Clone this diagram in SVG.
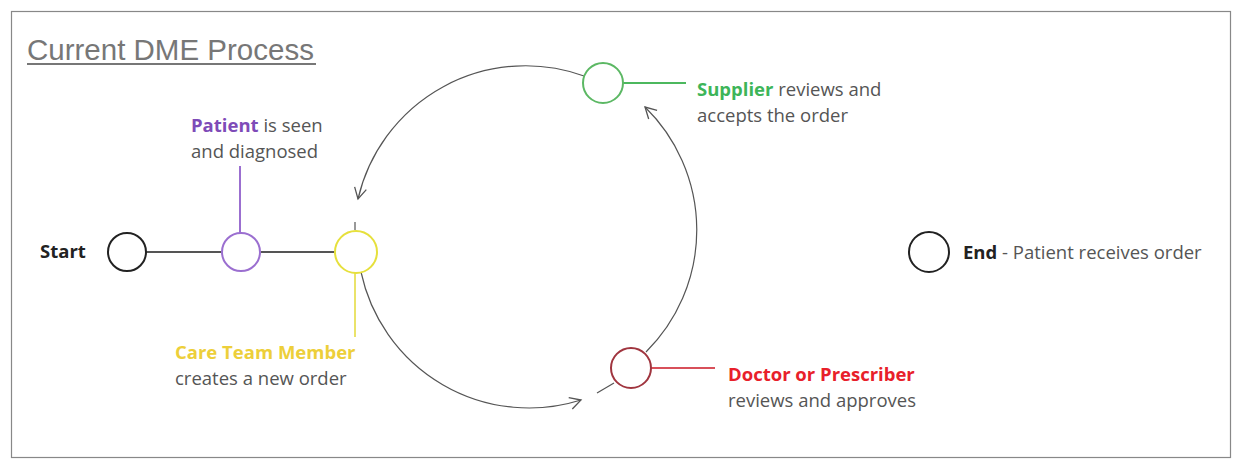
<svg xmlns="http://www.w3.org/2000/svg" width="1233" height="460" viewBox="0 0 1233 460">
<defs>
<style>
.t{font-family:"Open Sans","Noto Sans",sans-serif;font-size:18.5px;fill:#555}
.b{font-weight:bold}
.node{fill:#fff;stroke-width:2}
.conn{fill:none;stroke:#555;stroke-width:1.2}
.lead{stroke-width:2}
</style>
<marker id="ah" viewBox="0 0 14 14" refX="12" refY="7" markerWidth="14" markerHeight="14" markerUnits="userSpaceOnUse" orient="auto">
<path d="M1,1 L12,7 L1,13" fill="none" stroke="#555" stroke-width="1.3"/>
</marker>
</defs>
<rect width="1233" height="460" fill="#fff"/>
<rect x="11.5" y="11.5" width="1219" height="446" fill="none" stroke="#888" stroke-width="1.2"/>
<text x="27" y="60" font-family="Liberation Sans,Arial,sans-serif" font-size="29.5" fill="#777">Current DME Process</text>
<line x1="27" y1="64" x2="316" y2="64" stroke="#777" stroke-width="2"/>
<g id="connectors">
<line x1="146" y1="252" x2="221" y2="252" stroke="#555" stroke-width="2"/>
<line x1="261" y1="252" x2="335" y2="252" stroke="#555" stroke-width="2"/>
<path class="conn" d="M584,76 A172,172 0 0 0 358,199" marker-end="url(#ah)"/>
<line class="conn" x1="355" y1="222" x2="355" y2="230"/>
<path class="conn" d="M361,272 A172,172 0 0 0 581,400" marker-end="url(#ah)"/>
<line class="conn" x1="597" y1="393" x2="614" y2="383"/>
<path class="conn" d="M646,352 A172,172 0 0 0 645,107" marker-end="url(#ah)"/>
</g>
<g id="start">
<circle class="node" cx="127" cy="252" r="19" stroke="#222"/>
<text class="t b" x="40" y="258" style="fill:#222">Start</text>
</g>
<g id="patient">
<line class="lead" x1="240" y1="166" x2="240" y2="233" stroke="#9B6FD0"/>
<circle class="node" cx="241" cy="252" r="19" stroke="#9B6FD0"/>
<text class="t" x="191" y="132"><tspan class="b" style="fill:#7E4BB8">Patient</tspan> is seen</text>
<text class="t" x="191" y="158">and diagnosed</text>
</g>
<g id="care-team">
<line class="lead" x1="355" y1="273" x2="355" y2="337" stroke="#EAE36A"/>
<circle class="node" cx="356" cy="252" r="21" stroke="#E6E03C"/>
<text class="t b" x="175" y="359" style="fill:#EDCF3A">Care Team Member</text>
<text class="t" x="175" y="385">creates a new order</text>
</g>
<g id="supplier">
<line class="lead" x1="623" y1="83" x2="686" y2="83" stroke="#4CB85E"/>
<circle class="node" cx="603" cy="83" r="20" stroke="#5CB864"/>
<text class="t" x="697" y="96"><tspan class="b" style="fill:#3DB559">Supplier</tspan> reviews and</text>
<text class="t" x="697" y="122">accepts the order</text>
</g>
<g id="doctor">
<line class="lead" x1="651" y1="368" x2="715" y2="368" stroke="#D8505A"/>
<circle class="node" cx="631" cy="368" r="20" stroke="#A0353F"/>
<text class="t b" x="728" y="381" style="fill:#E8202A">Doctor or Prescriber</text>
<text class="t" x="728" y="407">reviews and approves</text>
</g>
<g id="end">
<circle class="node" cx="929" cy="252" r="20" stroke="#222"/>
<text class="t" x="963" y="259"><tspan class="b" style="fill:#222">End</tspan> - Patient receives order</text>
</g>
</svg>
